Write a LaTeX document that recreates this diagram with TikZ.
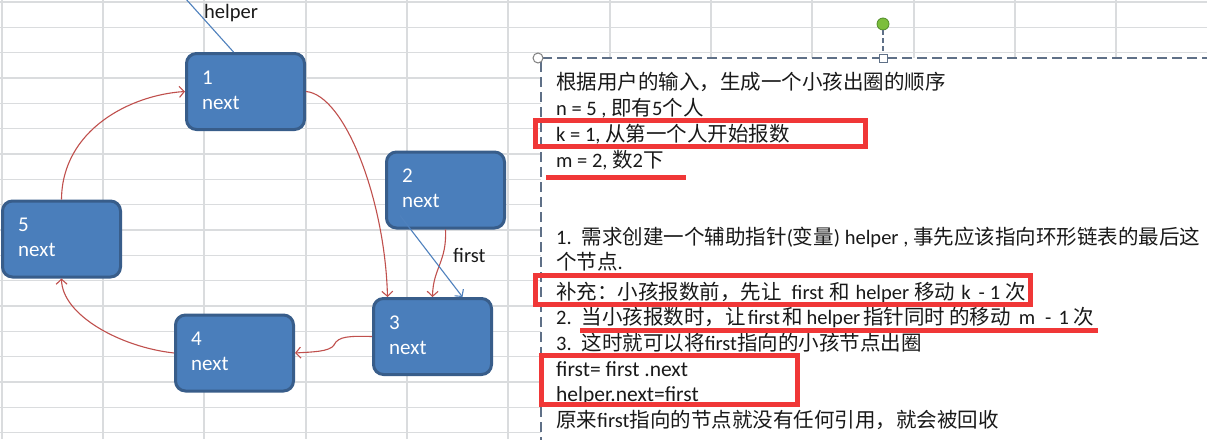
\documentclass[tikz,border=0pt]{standalone}
\usepackage{fontspec}
\setmainfont{Carlito}
\newfontfamily\cjk{Noto Sans CJK SC}
\usetikzlibrary{arrows.meta}
\definecolor{gridc}{RGB}{218,220,222}
\definecolor{boxfill}{RGB}{74,126,187}
\definecolor{boxdraw}{RGB}{56,93,138}
\definecolor{linkred}{RGB}{192,80,77}
\definecolor{ptrblue}{RGB}{79,129,189}
\definecolor{hlred}{RGB}{240,55,55}
\definecolor{framec}{RGB}{95,112,135}
\definecolor{handlegreen}{RGB}{124,190,60}
\definecolor{handledark}{RGB}{80,140,40}
\definecolor{txt}{RGB}{25,25,25}
\newcommand\C[1]{{\cjk #1}}
\begin{document}
\begin{tikzpicture}[x=1pt,y=-1pt,
  nodebox/.style={draw=boxdraw, line width=3pt, fill=boxfill, rounded corners=10pt,
    minimum width=118pt, minimum height=76pt, inner sep=0pt},
  boxtext/.style={anchor=north west, inner sep=0pt, align=left, text=white,
    font=\fontsize{21}{25}\selectfont},
  link/.style={draw=linkred, line width=1.1pt, -{Straight Barb[length=5pt,width=11pt]}},
  ptr/.style={draw=ptrblue, line width=1.1pt},
  txtline/.style={anchor=base west, inner sep=0pt, text=txt, font=\fontsize{20.5}{24}\selectfont},
  codeline/.style={txtline, font=\fontsize{21.5}{24}\selectfont},
  hlbox/.style={draw=hlred, line width=5pt},
]
\useasboundingbox (0,0) rectangle (1207,439);
\fill[white] (0,0) rectangle (1207,439);
% spreadsheet grid
\foreach \k in {0,...,17} \draw[gridc, line width=1.3pt] (0,{2+25.33*\k}) -- (541,{2+25.33*\k});
\foreach \k in {0,1,2} \draw[gridc, line width=1.3pt] (541,{2+25.33*\k}) -- (1207,{2+25.33*\k});
\foreach \x in {2,103,204,306,407,508} \draw[gridc, line width=1.3pt] (\x,0) -- (\x,439);
\foreach \x in {610,711,812,914,1015,1116} \draw[gridc, line width=1.3pt] (\x,0) -- (\x,58);
% text box
\fill[white] (541,58) rectangle (1212,444);
\draw[framec, line width=1.8pt, dash pattern=on 10pt off 5pt] (1212,58) -- (541,58) -- (541,444);
\node[circle, draw=gray, fill=white, minimum size=10pt, inner sep=0pt, line width=1pt] (tlh) at (538,58) {};
\node[draw=framec, fill=white, minimum size=8pt, inner sep=0pt, line width=1pt] (sqh) at (883,58) {};
\node[circle, draw=handledark, fill=handlegreen, minimum size=12pt, inner sep=0pt, line width=0.8pt] (grh) at (883,24) {};
\draw[framec, line width=1.2pt, dash pattern=on 5pt off 3pt] (grh) -- (sqh);
% text lines
\node[txtline] (l1) at (556,89) {\C{根据用户的输入，生成一个小孩出圈的顺序}};
\node[txtline] (l2) at (556,115) {n = 5 , \C{即有}5\C{个人}};
\node[txtline] (l3) at (556,141) {k = 1, \C{从第一个人开始报数}};
\node[txtline] (l4) at (556,167) {m = 2, \C{数}2\C{下}};
\node[txtline] (l5) at (556,244) {1.\hspace{10pt}\C{需求创建一个辅助指针}(\C{变量}) helper , \C{事先应该指向环形链表的最后这}};
\node[txtline] (l6) at (556,269) {\C{个节点}.};
\node[txtline] (l7) at (556,299) {\C{补充：小孩报数前，先让}\hspace{10pt}first\hspace{5pt}\C{和}\hspace{6pt}helper\hspace{5pt}\C{移动}\hspace{6pt}k\hspace{8pt}-\hspace{5pt}1\hspace{5pt}\C{次}};
\node[txtline] (l8) at (556,324) {2.\hspace{10pt}\C{当小孩报数时，让}\hspace{2pt}first\hspace{2pt}\C{和}\hspace{4pt}helper\hspace{3pt}\C{指针同时}\hspace{4pt}\C{的移动}\hspace{8pt}m\hspace{10pt}-\hspace{7pt}1\hspace{5pt}\C{次}};
\node[txtline] (l9) at (556,350) {3.\hspace{10pt}\C{这时就可以将}first\C{指向的小孩节点出圈}};
\node[codeline] (l10) at (556,376) {first= first .next};
\node[codeline] (l11) at (556,401) {helper.next=first};
\node[txtline] (l12) at (556,427) {\C{原来}first\C{指向的节点就没有任何引用，就会被回收}};
% red highlights
\draw[hlbox] (535.5,120.5) rectangle (865.5,146.5);
\fill[hlred] (546,175) rectangle (686,180);
\draw[hlbox] (535.5,275.5) rectangle (1030.5,304.5);
\fill[hlred] (580,328) rectangle (1098,333);
\draw[hlbox] (541.5,355.5) rectangle (797.5,404.5);
% list nodes
\node[nodebox] (n1) at (245.5,91.5) {};
\node[nodebox] (n2) at (445.5,190) {};
\node[nodebox] (n3) at (432.5,336.5) {};
\node[nodebox] (n4) at (234.5,353) {};
\node[nodebox] (n5) at (61.5,239) {};
\node[boxtext] (t1) at ([xshift=17pt,yshift=-18.5pt]n1.north west) {1\\next};
\node[boxtext] (t2) at ([xshift=17pt,yshift=-18.5pt]n2.north west) {2\\next};
\node[boxtext] (t3) at ([xshift=17pt,yshift=-18.5pt]n3.north west) {3\\next};
\node[boxtext] (t4) at ([xshift=17pt,yshift=-18.5pt]n4.north west) {4\\next};
\node[boxtext] (t5) at ([xshift=17pt,yshift=-18.5pt]n5.north west) {5\\next};
% labels
\node[txtline] (helperlbl) at (204,18) {helper};
\node[txtline] (firstlbl) at (453,262) {first};
% connectors
\draw[link] (n1.east) .. controls (345,95) and (385,200) .. ([xshift=-45pt]n3.north);
\draw[link] (n2.south) .. controls (447,262) and (433,268) .. (n3.north);
\draw[link] (n3.west) .. controls (350,336) and (338,336) .. (334,345) .. controls (330,352) and (310,352) .. (n4.east);
\draw[link] (n4.west) .. controls (120,347) and (62,315) .. (n5.south);
\draw[link] (n5.north) .. controls (62,130) and (130,95) .. (n1.west);
\coordinate (fstart) at ([xshift=15pt,yshift=14pt]n2.south west);
\draw[ptr, -{Straight Barb[length=5pt,width=11pt]}] (fstart) -- ([xshift=30pt]n3.north);
\coordinate (hstart) at (185,-2);
\draw[ptr] (hstart) -- ([xshift=-12pt]n1.north);
\end{tikzpicture}
\end{document}
